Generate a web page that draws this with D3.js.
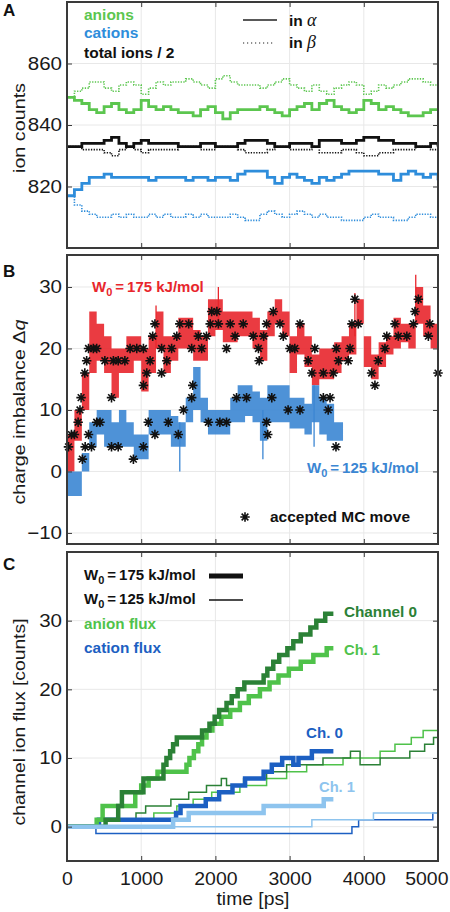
<!DOCTYPE html>
<html><head><meta charset="utf-8">
<script src="https://cdn.jsdelivr.net/npm/d3@7"></script>
<style>
body{margin:0;background:#fff}
svg{display:block}
text{font-family:"Liberation Sans",Arial,Helvetica,sans-serif}
</style>
</head><body>
<svg id="chart" width="450" height="912"></svg>
<script>
// ---------------- DATA ----------------
const xTicks = [0,1000,2000,3000,4000,5000];
const yTicksA = [820,840,860];
const yTicksB = [-10,0,10,20,30];
const yTicksC = [0,10,20,30];

// Panel A: ion counts sampled every 100 ps
const timeA = [0,100,200,300,400,500,600,700,800,900,1000,1100,1200,1300,1400,1500,1600,1700,1800,1900,2000,2100,2200,2300,2400,2500,2600,2700,2800,2900,3000,3100,3200,3300,3400,3500,3600,3700,3800,3900,4000,4100,4200,4300,4400,4500,4600,4700,4800,4900,5000];
const anionAlpha = [849,848,847,845,844,846,847,845,844,845,848,846,845,846,845,844,844,843,845,846,844,842,844,845,845,845,846,845,844,843,845,846,847,845,847,848,846,845,844,845,848,847,845,846,845,844,843,843,844,845,845];
const anionBeta  = [849,851,852,854,854,852,851,853,854,853,850,852,854,853,854,854,855,854,853,852,855,856,854,853,853,853,852,853,854,855,853,852,851,853,851,850,852,853,854,853,850,851,853,852,853,854,855,855,854,853,853];
const cationAlpha = [817,819,821,823,823,824,823,823,823,823,823,822,823,823,823,823,822,823,823,822,823,823,822,824,825,825,825,823,821,823,824,823,822,821,823,822,823,824,825,825,825,825,824,824,822,824,825,824,823,824,822];
const cationBeta  = [817,814,812,811,810,810,811,810,811,810,810,811,810,811,810,810,811,810,811,810,810,810,811,810,809,809,811,812,811,810,811,812,811,810,811,810,810,809,809,809,810,811,810,810,809,809,810,811,811,810,811];
const totalAlpha = [833,833,834,834,834,835,836,834,833,834,835,834,834,834,834,833,833,833,834,834,833,833,833,834,835,835,835,834,833,833,834,834,834,833,835,835,835,834,834,835,836,836,835,835,834,834,834,833,833,834,833];
const totalBeta  = [833,833,832,832,832,831,830,832,833,832,831,832,832,832,832,833,833,833,832,832,833,833,833,832,831,831,831,832,833,833,832,832,832,833,831,831,831,832,832,831,830,830,831,831,832,832,832,833,833,832,833];

// Panel B: charge imbalance fluctuation band (low / high) per 100 ps
const redT = timeA;
const redLo = [0,5,10,16,18,16,12,16,16,18,13,16,20,16,18,20,20,18,18,22,23,21,21,22,22,20,18,22,24,22,16,19,17,14,15,15,16,18,19,24,17,15,17,19,20,21,20,24,22,20,15];
const redHi = [6,10,16,26,24,22,20,20,22,22,20,22,26,22,22,25,25,23,22,28,28,26,26,26,26,25,23,26,28,26,22,24,22,19,20,20,21,22,24,28,22,19,21,22,25,24,24,30,27,24,19];
const blueT = [0,100,200,300,400,500,600,700,800,900,1000,1100,1200,1300,1400,1500,1600,1700,1800,1900,2000,2100,2200,2300,2400,2500,2600,2700,2800,2900,3000,3100,3200,3300,3400,3500,3600,3720];
const blueLo = [-4,-4,0,4,6,4,4,4,4,2,2,6,6,6,4,4,8,10,8,6,6,6,8,8,9,8,5,8,8,8,7,7,6,8,6,5,5,6];
const blueHi = [0,0,3,8,10,10,8,10,8,6,6,10,10,10,9,8,12,17,12,10,10,10,12,14,14,13,12,14,14,14,12,12,11,14,12,11,8,8];
const redSpikeT = [1200,2040,3880,4700];
const redSpikeLo = [20,24,22,24];
const redSpikeHi = [27,30,29,32];
const blueSpikeT = [1520,2640,3330];
const blueSpikeLo = [0,2,4];
const blueSpikeHi = [8,10,14];
// accepted MC moves
const redStarT = [20,60,100,150,175,190,240,265,290,355,400,510,600,625,690,780,850,940,1030,1030,1075,1120,1155,1185,1275,1275,1345,1410,1480,1520,1640,1680,1770,1815,1880,1930,1950,2020,2040,2150,2200,2265,2375,2510,2580,2590,2650,2690,2780,2870,2915,3005,3070,3140,3250,3300,3340,3455,3590,3630,3660,3790,3815,3840,3880,3925,4105,4150,4195,4285,4310,4420,4465,4580,4670,4690,4735,4870,4890,5000];
const redStarQ = [4,6,6,8,10,12,16,18,20,20,20,18,12,18,18,18,20,20,20,14,16,18,22,24,16,20,18,20,22,24,24,20,22,20,22,24,26,26,24,20,24,22,24,22,20,18,22,24,26,24,22,20,20,24,18,16,20,16,16,20,18,18,20,24,28,24,16,14,18,20,22,24,22,22,24,26,28,22,24,16];
const blueStarT = [207,245,290,330,400,445,600,690,895,1030,1095,1185,1365,1500,1570,1680,1695,1905,2060,2150,2285,2420,2690,2705,2760,2980,3140,3455,3520,3545,3625];
const blueStarQ = [2,4,6,4,8,8,4,4,2,4,8,6,8,6,10,12,14,8,8,8,12,12,8,6,12,10,10,12,10,12,4];

// Panel C: cumulative channel flux (step changes)
const anionCh0W175T = [0,520,690,740,1030,1300,1340,1390,1430,1480,1820,1920,1990,2050,2150,2220,2300,2390,2650,2700,2780,2860,2970,3050,3150,3280,3360,3480,3590];
const anionCh0W175V = [0,1,3,5,7,9,10,11,12,13,14,15,16,17,18,19,20,21,22,23,24,25,26,27,28,29,30,31,31];
const anionCh1W175T = [0,400,480,920,1000,1100,1220,1610,1650,1710,1770,1820,1880,1960,2080,2200,2330,2450,2600,2730,2850,2990,3150,3320,3500,3590];
const anionCh1W175V = [0,1,3,5,6,7,8,9,10,11,12,13,14,15,16,17,18,19,20,21,22,23,24,25,26,26];
const cationCh0W175T = [0,430,1470,1530,1870,2050,2230,2400,2650,2760,2900,3050,3120,3300,3590];
const cationCh0W175V = [0,1,2,3,4,5,6,7,8,9,10,9,10,11,11];
const cationCh1W175T = [0,1430,1640,2650,3460,3590];
const cationCh1W175V = [0,1,2,3,4,4];
const anionCh0W125T = [0,450,930,1060,1400,1640,1880,2080,2150,2380,2690,2960,3450,3820,3950,4220,4620,4820,4940,5000];
const anionCh0W125V = [0,1,2,3,4,5,6,7,6,7,8,9,10,11,9,10,11,12,13,13];
const anionCh1W125T = [0,520,1170,1480,1700,1950,2330,2690,2960,3230,3720,4220,4420,4640,4800,5000];
const anionCh1W125V = [0,1,2,3,4,5,6,7,8,9,10,11,12,13,14,14];
const cationCh0W125T = [0,390,3840,3930,4930,5000];
const cationCh0W125V = [0,-1,0,1,2,2];
const cationCh1W125T = [0,3300,4130,5000];
const cationCh1W125V = [0,1,2,2];

// ---------------- STYLE ----------------
const C = {
  green:"#5cc64f", blue:"#2e8ddb", red:"#e8262c", bandBlue:"#3b86d3",
  dkGreen:"#2b8136", ltGreen:"#4fc24a", dkBlue:"#1c5fc2", ltBlue:"#8ec4ee",
  frame:"#3a3a3a", grid:"#e8e8e8"
};
const svg = d3.select("#chart");
const x = d3.scaleLinear().domain([0,5000]).range([67,438]);
const X0 = 67, X1 = 438;

const panels = {
  A:{y:d3.scaleLinear().domain([800,880]).range([248,2]), ticks:yTicksA, top:2, bot:248},
  B:{y:d3.scaleLinear().domain([-11.8,35.2]).range([544,255]), ticks:yTicksB, top:255, bot:544},
  C:{y:d3.scaleLinear().domain([-5,40]).range([861,552]), ticks:yTicksC, top:552, bot:861}
};

function stretch(sel, f){
  sel.each(function(){ const n=this.getComputedTextLength(); if(n>0){ d3.select(this).attr("textLength", n*f).attr("lengthAdjust","spacingAndGlyphs"); } });
}

const defs = svg.append("defs");
Object.entries(panels).forEach(([k,p])=>{
  defs.append("clipPath").attr("id","clip"+k).append("rect")
    .attr("x",X0).attr("y",p.top).attr("width",X1-X0).attr("height",p.bot-p.top);
  const g = svg.append("g");
  g.selectAll(".gx").data(xTicks.slice(1,-1)).join("line")
    .attr("x1",d=>x(d)).attr("x2",d=>x(d)).attr("y1",p.top).attr("y2",p.bot)
    .attr("stroke",C.grid).attr("stroke-width",1);
  g.selectAll(".gy").data(p.ticks).join("line")
    .attr("x1",X0).attr("x2",X1).attr("y1",d=>p.y(d)).attr("y2",d=>p.y(d))
    .attr("stroke",C.grid).attr("stroke-width",1);
  p.plot = svg.append("g").attr("clip-path","url(#clip"+k+")");
});

// ---------- Panel A ----------
(function(){
  const p = panels.A, y = p.y;
  const line = d3.line().curve(d3.curveStepAfter).x((d,i)=>x(timeA[i])).y(d=>y(d));
  const series = [
    [anionBeta, C.green, true],[anionAlpha, C.green, false],
    [cationBeta, C.blue, true],[cationAlpha, C.blue, false],
    [totalBeta, "#111", true],[totalAlpha, "#111", false]
  ];
  series.forEach(([v,col,dot])=>{
    p.plot.append("path").attr("d",line(v)).attr("fill","none").attr("stroke",col)
      .attr("stroke-width",dot?1.6:2.8)
      .attr("stroke-dasharray",dot?"1.3,1.4":null);
  });
})();

// ---------- Panel B ----------
(function(){
  const p = panels.B, y = p.y;
  const area = (T)=>d3.area().curve(d3.curveStepAfter).x((d,i)=>x(T[i])).y0(d=>y(d[0])).y1(d=>y(d[1]));
  p.plot.append("path").attr("d",area(redT)(redLo.map((d,i)=>[d,redHi[i]])))
    .attr("fill",C.red).attr("fill-opacity",0.9);
  p.plot.selectAll(".rs").data(redSpikeT).join("line")
    .attr("x1",d=>x(d)).attr("x2",d=>x(d)).attr("y1",(d,i)=>y(redSpikeLo[i])).attr("y2",(d,i)=>y(redSpikeHi[i]))
    .attr("stroke",C.red).attr("stroke-width",1.3);
  p.plot.append("path").attr("d",area(blueT)(blueLo.map((d,i)=>[d,blueHi[i]])))
    .attr("fill",C.bandBlue).attr("fill-opacity",0.9);
  p.plot.selectAll(".bs").data(blueSpikeT).join("line")
    .attr("x1",d=>x(d)).attr("x2",d=>x(d)).attr("y1",(d,i)=>y(blueSpikeLo[i])).attr("y2",(d,i)=>y(blueSpikeHi[i]))
    .attr("stroke",C.bandBlue).attr("stroke-width",1.3);
  const ast = {draw(ctx,size){const r=Math.sqrt(size)/2, d=r*0.7071;
    ctx.moveTo(-r,0);ctx.lineTo(r,0);ctx.moveTo(0,-r);ctx.lineTo(0,r);
    ctx.moveTo(-d,-d);ctx.lineTo(d,d);ctx.moveTo(-d,d);ctx.lineTo(d,-d);}};
  const sym = d3.symbol().type(ast).size(90);
  const stars = redStarT.map((t,i)=>[t,redStarQ[i]]).concat(blueStarT.map((t,i)=>[t,blueStarQ[i]]));
  svg.append("g").selectAll("path").data(stars).join("path")
    .attr("transform",d=>`translate(${x(d[0])},${y(d[1])})`).attr("d",sym)
    .attr("fill","none").attr("stroke","#111").attr("stroke-width",1.6);
  svg.append("path").attr("transform","translate(245,517)").attr("d",sym)
    .attr("fill","none").attr("stroke","#111").attr("stroke-width",1.6);
  svg.append("text").attr("x",270).attr("y",522).attr("font-size",14).attr("font-weight","bold").attr("fill","#111")
    .text("accepted MC move").attr("textLength",140).attr("lengthAdjust","spacingAndGlyphs");
})();

// ---------- Panel C ----------
(function(){
  const p = panels.C, y = p.y;
  const step = (T,V)=>d3.line().curve(d3.curveStepAfter).x((d,i)=>x(T[i])).y(d=>y(d))(V);
  const series = [
    [cationCh0W125T,cationCh0W125V,C.dkBlue,1.5],
    [cationCh1W125T,cationCh1W125V,C.ltBlue,1.5],
    [anionCh1W125T,anionCh1W125V,C.ltGreen,1.5],
    [anionCh0W125T,anionCh0W125V,C.dkGreen,1.5],
    [cationCh0W175T,cationCh0W175V,C.dkBlue,4.5],
    [anionCh1W175T,anionCh1W175V,C.ltGreen,4.5],
    [anionCh0W175T,anionCh0W175V,C.dkGreen,4.5],
    [cationCh1W175T,cationCh1W175V,C.ltBlue,4.5]
  ];
  series.forEach(([T,V,col,w])=>{
    p.plot.append("path").attr("d",step(T,V)).attr("fill","none").attr("stroke",col).attr("stroke-width",w);
  });
  const lab = (xx,yy,txt,col,len)=>svg.append("text").attr("x",xx).attr("y",yy).attr("font-size",14).attr("font-weight","bold")
      .attr("fill",col).text(txt).attr("textLength",len).attr("lengthAdjust","spacingAndGlyphs");
  lab(344,617,"Channel 0",C.dkGreen,73);
  lab(344,655,"Ch. 1",C.ltGreen,36);
  lab(306,738,"Ch. 0",C.dkBlue,37);
  lab(319,792,"Ch. 1",C.ltBlue,36);
  lab(84,629,"anion flux",C.ltGreen,72);
  lab(84,653,"cation flux",C.dkBlue,77);
  svg.append("line").attr("x1",209).attr("x2",243).attr("y1",576).attr("y2",576).attr("stroke","#111").attr("stroke-width",5);
  svg.append("line").attr("x1",209).attr("x2",243).attr("y1",600).attr("y2",600).attr("stroke","#111").attr("stroke-width",1.5);
})();

function wLabel(xx,yy,num,col){
  const t = svg.append("text").attr("x",xx).attr("y",yy).attr("font-size",15).attr("font-weight","bold").attr("fill",col);
  t.append("tspan").text("W");
  t.append("tspan").attr("dy",4).attr("font-size",11).text("0");
  t.append("tspan").attr("dy",-4).text("\u2009=\u2009"+num+" kJ/mol");
  return t;
}
wLabel(92,292,"175",C.red);
wLabel(307,473,"125",C.bandBlue);
wLabel(84,580,"175","#111");
wLabel(84,604,"125","#111");

// ---------- Panel A legend ----------
(function(){
  const lt = (yy,txt,col)=>svg.append("text").attr("x",84).attr("y",yy).attr("font-size",15.5).attr("font-weight","bold").attr("fill",col).text(txt);
  lt(20,"anions",C.green); lt(38,"cations",C.blue); lt(58,"total ions / 2","#111");
  svg.append("line").attr("x1",243).attr("x2",277).attr("y1",20).attr("y2",20).attr("stroke","#222").attr("stroke-width",1.3);
  svg.append("line").attr("x1",243).attr("x2",273).attr("y1",43).attr("y2",43).attr("stroke","#222").attr("stroke-width",1.2).attr("stroke-dasharray","1.2,2.8");
  [["α",26],["β",48]].forEach(([g,yy])=>{
    const t = svg.append("text").attr("x",289).attr("y",yy).attr("font-size",15.5).attr("font-weight","bold").attr("fill","#111");
    t.append("tspan").text("in ");
    t.append("tspan").attr("font-family","'Liberation Serif','DejaVu Serif',serif").attr("font-style","italic").attr("font-weight","normal").attr("font-size",18).text(g);
  });
})();

// ---------- Axes, frames ----------
Object.entries(panels).forEach(([k,p])=>{
  const yl = svg.append("g").attr("transform",`translate(${X0},0)`)
    .call(d3.axisLeft(p.y).tickValues(p.ticks).tickSize(-5).tickPadding(5));
  const yr = svg.append("g").attr("transform",`translate(${X1},0)`)
    .call(d3.axisRight(p.y).tickValues(p.ticks).tickSize(-5).tickFormat(""));
  const xb = svg.append("g").attr("transform",`translate(0,${p.bot})`)
    .call(d3.axisBottom(x).tickValues(xTicks).tickSize(-5).tickPadding(11).tickFormat(k==="C"?d3.format("d"):""));
  const xt = svg.append("g").attr("transform",`translate(0,${p.top})`)
    .call(d3.axisTop(x).tickValues(xTicks).tickSize(-5).tickFormat(""));
  [yl,yr,xb,xt].forEach(a=>{
    a.select(".domain").remove();
    a.selectAll("line").attr("stroke",C.frame).attr("stroke-width",1);
    a.selectAll("text").attr("font-size",18).attr("fill","#1a1a1a").attr("font-family","'Liberation Sans',Arial,sans-serif");
  });
  stretch(yl.selectAll("text"),1.14);
  stretch(xb.selectAll("text"),1.08);
  xb.selectAll(".tick text").filter(d=>d===5000).attr("text-anchor","end").attr("x",10);
  svg.append("rect").attr("x",X0).attr("y",p.top).attr("width",X1-X0).attr("height",p.bot-p.top)
    .attr("fill","none").attr("stroke",C.frame).attr("stroke-width",2);
});

// panel letters
[["A",16],["B",277],["C",570]].forEach(([l,yy])=>{
  svg.append("text").attr("x",3).attr("y",yy).attr("font-size",17).attr("font-weight","bold").attr("fill","#111").text(l);
});

// axis titles
function ytitle(cy,len,fs,build){
  const t = svg.append("text").attr("transform",`translate(25,${cy}) rotate(-90)`).attr("text-anchor","middle")
    .attr("font-size",fs).attr("fill","#1a1a1a");
  build(t);
  t.attr("textLength",len).attr("lengthAdjust","spacingAndGlyphs");
}
ytitle(128,90,17,t=>t.text("ion counts"));
ytitle(412,185,17,t=>{ t.append("tspan").text("charge imbalance  Δ"); t.append("tspan").attr("font-style","italic").text("q"); });
ytitle(722,207,17,t=>t.text("channel ion flux [counts]"));
svg.append("text").attr("x",253).attr("y",905).attr("text-anchor","middle").attr("font-size",18).attr("fill","#1a1a1a")
  .text("time [ps]").attr("textLength",73).attr("lengthAdjust","spacingAndGlyphs");
</script>
</body></html>
